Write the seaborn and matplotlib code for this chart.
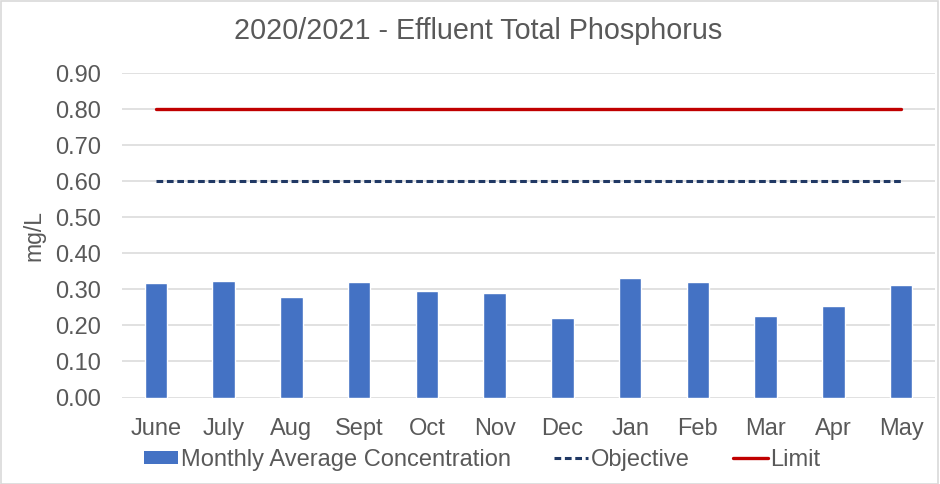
import numpy as np
import pandas as pd
import matplotlib
matplotlib.use("Agg")
import matplotlib.pyplot as plt
import seaborn as sns
from matplotlib.patches import Patch, Rectangle
from matplotlib.lines import Line2D

months = ["June", "July", "Aug", "Sept", "Oct", "Nov", "Dec", "Jan", "Feb", "Mar", "Apr", "May"]
monthly_avg = [0.318, 0.323, 0.279, 0.320, 0.296, 0.290, 0.221, 0.332, 0.321, 0.227, 0.254, 0.313]
objective = [0.60] * 12
limit = [0.80] * 12
yticks = [0.0, 0.1, 0.2, 0.3, 0.4, 0.5, 0.6, 0.7, 0.8, 0.9]

sns.set_style("white")
plt.rcParams['font.family'] = ['Liberation Sans', 'DejaVu Sans']
text_col = "#595959"

fig = plt.figure(figsize=(9.4, 4.84), dpi=100)
ax = fig.add_axes([122/940, (484-397.5)/484, (935-122)/940, 324.5/484])

df = pd.DataFrame({"Month": months, "Value": monthly_avg})
sns.barplot(data=df, x="Month", y="Value", color="#4472C4", saturation=1,
            width=0.33, ax=ax, zorder=3)
sns.lineplot(x=np.arange(len(months)), y=objective, ax=ax, color="#203864",
             linestyle=(0, (2.2, 1.2)), linewidth=2.2, zorder=4)
sns.lineplot(x=np.arange(len(months)), y=limit, ax=ax, color="#C00000",
             linewidth=2.4, zorder=4)

ax.set_ylim(0, 0.9)
ax.set_xlim(-0.5, len(months) - 0.5)
ax.set_yticks(yticks)
ax.set_yticklabels([f"{t:.2f}" for t in yticks])
ax.yaxis.grid(True, color="#d9d9d9", linewidth=1.1, zorder=0)
ax.set_axisbelow(True)
for s in ax.spines.values():
    s.set_visible(False)
ax.tick_params(axis="both", length=0, labelsize=17, labelcolor=text_col)
ax.tick_params(axis="x", pad=15)
ax.tick_params(axis="y", pad=15)
ax.set_xlabel("")
ax.set_ylabel("mg/L", fontsize=16.5, color=text_col, labelpad=7)

fig.text(478/940, 1 - 31/484, "2020/2021 - Effluent Total Phosphorus",
         ha="center", va="center", fontsize=20.7, color=text_col)

handles = [Patch(facecolor="#4472C4", edgecolor="none"),
           Line2D([], [], color="#203864", linestyle=(0, (2.2, 1.2)), linewidth=2.2),
           Line2D([], [], color="#C00000", linewidth=2.4)]
labels = ["Monthly Average Concentration", "Objective", "Limit"]
leg = fig.legend(handles, labels, loc="center", bbox_to_anchor=(482/940, 1 - 460/484),
                 ncol=3, frameon=False, fontsize=17, handlelength=1.45,
                 handleheight=0.5, handletextpad=0.1, columnspacing=1.85,
                 labelcolor=text_col)

fig.patches.append(Rectangle((0.001, 0.001), 0.997, 0.997, transform=fig.transFigure,
                             fill=False, edgecolor="#d9d9d9", linewidth=1.2))

fig.savefig("out.png", dpi=100)
